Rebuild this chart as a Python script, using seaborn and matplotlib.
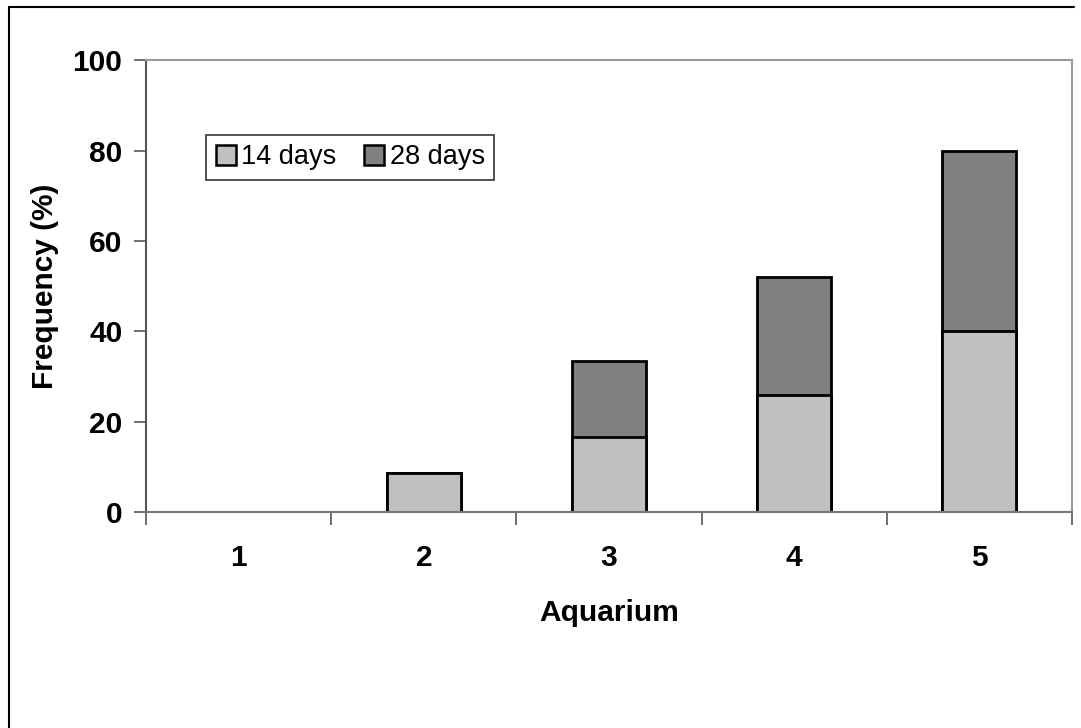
import pandas as pd
import matplotlib.pyplot as plt
import seaborn as sns
from matplotlib.lines import Line2D
from matplotlib.patches import Patch

aquariums = ["1", "2", "3", "4", "5"]
days_14 = [0.0, 8.7, 16.7, 26.0, 40.0]
days_28 = [0.0, 0.0, 16.7, 26.0, 40.0]
y_ticks = [0, 20, 40, 60, 80, 100]

LIGHT = "#c0c0c0"
DARK = "#808080"


def main() -> None:
    sns.set_style("ticks")
    plt.rcParams["font.family"] = ["Liberation Sans", "DejaVu Sans"]
    plt.rcParams["text.color"] = "black"
    plt.rcParams["axes.labelcolor"] = "black"
    plt.rcParams["xtick.labelcolor"] = "black"
    plt.rcParams["ytick.labelcolor"] = "black"

    df = pd.DataFrame({"Aquarium": aquariums, "14 days": days_14, "28 days": days_28})
    df["Total"] = df["14 days"] + df["28 days"]

    fig = plt.figure(figsize=(10.81, 7.28), dpi=100)
    ax = fig.add_axes([0.1351, 0.2963, 0.8566, 0.6209])

    # stacked bars: totals (28 days on top) first, then the 14-day part over them
    sns.barplot(data=df, x="Aquarium", y="Total", color=DARK, width=0.4,
                edgecolor="black", linewidth=2, saturation=1, ax=ax)
    sns.barplot(data=df, x="Aquarium", y="14 days", color=LIGHT, width=0.4,
                edgecolor="black", linewidth=2, saturation=1, ax=ax)
    for p in ax.patches:
        if p.get_height() == 0:
            p.set_linewidth(0)

    ax.set_xlim(-0.5, len(aquariums) - 0.5)
    ax.set_ylim(0, 100)
    ax.set_yticks(y_ticks)
    ax.set_xticks(range(len(aquariums)))
    ax.set_xticks([i - 0.5 for i in range(len(aquariums) + 1)], minor=True)
    ax.tick_params(axis="x", which="major", length=0, pad=23, labelsize=21.5)
    ax.tick_params(axis="x", which="minor", length=9, width=1.2, color="#555555")
    ax.tick_params(axis="y", length=9, width=1.2, color="#555555", pad=8, labelsize=21.5)
    for lab in ax.get_xticklabels() + ax.get_yticklabels():
        lab.set_fontweight("bold")

    ax.set_xlabel("Aquarium", fontsize=21.5, fontweight="bold", labelpad=19)
    ax.set_ylabel("Frequency (%)", fontsize=21.5, fontweight="bold", labelpad=10)

    ax.spines["left"].set_color("#555555")
    ax.spines["bottom"].set_color("#777777")
    ax.spines["top"].set_color("#999999")
    ax.spines["right"].set_color("#999999")
    for s in ax.spines.values():
        s.set_linewidth(1.5)

    handles = [Patch(facecolor=LIGHT, edgecolor="black", linewidth=1.8),
               Patch(facecolor=DARK, edgecolor="black", linewidth=1.8)]
    leg = ax.legend(handles, ["14 days", "28 days"], loc="upper left",
                    bbox_to_anchor=(0.065, 0.835), ncol=2, fontsize=19.5,
                    frameon=True, fancybox=False, handlelength=0.75,
                    handleheight=0.75, handletextpad=0.2, columnspacing=1.0,
                    borderpad=0.35, borderaxespad=0)
    leg.get_frame().set_edgecolor("black")
    leg.get_frame().set_linewidth(1.2)

    # outer chart frame (left and top edges visible)
    fig.add_artist(Line2D([9 / 1081, 9 / 1081], [0, 1 - 7 / 728],
                          transform=fig.transFigure, color="black", linewidth=1.5))
    fig.add_artist(Line2D([9 / 1081, 1074 / 1081], [1 - 7 / 728, 1 - 7 / 728],
                          transform=fig.transFigure, color="black", linewidth=1.5))

    fig.savefig("out.png", dpi=100)
    plt.close(fig)


if __name__ == "__main__":
    main()
